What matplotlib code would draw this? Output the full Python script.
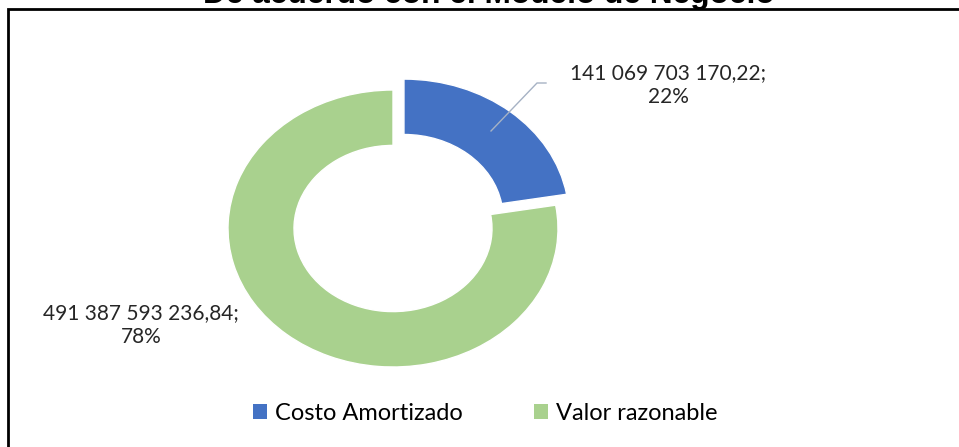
import numpy as np
import matplotlib.pyplot as plt
from matplotlib.patches import Rectangle, Patch

categories = ['Costo Amortizado', 'Valor razonable']
values = [141069703170.22, 491387593236.84]
value_labels = ['141 069 703 170,22;', '491 387 593 236,84;']
colors = ['#4472C4', '#A9D18E']

W, H = 959, 447
fig = plt.figure(figsize=(W / 100, H / 100), dpi=100)
fig.patch.set_facecolor('white')

# chart frame (top and left edge visible, rest runs off the image)
fig.patches.append(Rectangle((7.5 / W, -0.1), 1.2, 1 - 8.5 / H + 0.1,
                             transform=fig.transFigure, fill=False,
                             edgecolor='black', linewidth=2))

fig.text(489 / W, 1 - 3 / H, 'De acuerdo con el Modelo de Negocio',
         ha='center', va='baseline', fontsize=22.8, fontweight='bold',
         family='Liberation Sans', color='black')

# the donut is drawn squashed vertically (ellipse), so y data units are scaled
sy = 138.5 / 165
ax = fig.add_axes([0, 0, 1, 1])

def px(x, y):
    # pixel position (from top-left) -> data coords
    return x, (H - y) / sy

cx, cy = px(393, 228.5)
r = 165
explode_px = 17
wedges, _ = ax.pie(values, startangle=90, counterclock=False, colors=colors,
                   radius=r, center=(cx, cy), explode=[explode_px, 0],
                   wedgeprops=dict(width=r * 0.4, edgecolor='white', linewidth=1),
                   frame=True)
ax.set_aspect('auto')
ax.set_xlim(0, W)
ax.set_ylim(0, H / sy)
ax.axis('off')

total = sum(values)
pct = [round(v / total * 100) for v in values]
font = 'Lato'

# label for first slice with leader line
mid = np.deg2rad(90 - 360 * values[0] / total / 2)
ex, ey = cx + explode_px * np.cos(mid), cy + explode_px * np.sin(mid)
p0 = (ex + 135 * np.cos(mid), ey + 135 * np.sin(mid))
e1, e2 = px(537, 83), px(546, 83)
ax.plot([p0[0], e1[0], e2[0]], [p0[1], e1[1], e2[1]], color='#A6B2C4', lw=1)

lx, ly = px(668, 85)
ax.text(lx, ly, f'{value_labels[0]}\n{pct[0]}%', ha='center', va='center',
        fontsize=15, family=font, color='#262626', linespacing=1.2)
lx, ly = px(141, 325)
ax.text(lx, ly, f'{value_labels[1]}\n{pct[1]}%', ha='center', va='center',
        fontsize=15, family=font, color='#262626', linespacing=1.2)

handles = [Patch(facecolor=c, edgecolor='none') for c in colors]
fig.legend(handles, categories, loc='center', bbox_to_anchor=(485 / W, 1 - 413 / H),
           ncol=2, frameon=False, prop={'family': font, 'size': 17},
           handlelength=0.6, handleheight=0.6, handletextpad=0.35,
           columnspacing=3.0)

fig.savefig('out.png', dpi=100)
